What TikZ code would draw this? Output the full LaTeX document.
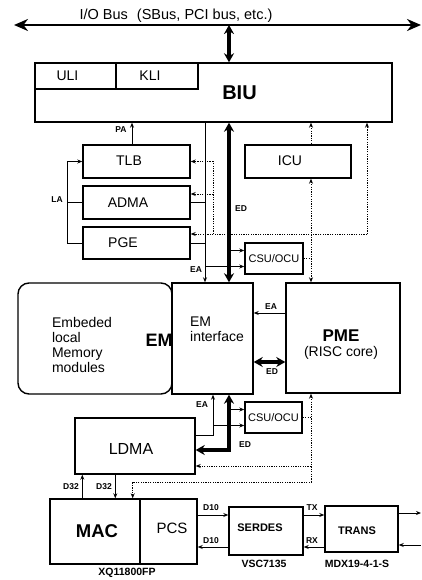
\documentclass[tikz,border=0pt]{standalone}
\usepackage{fontspec}
\setmainfont{Liberation Sans}
\usetikzlibrary{arrows.meta,positioning,calc}

\begin{document}
\begin{tikzpicture}[>={Stealth[length=5pt,width=4pt]},x=1pt,y=-1pt,
 font=\fontsize{14}{15}\selectfont,
 box/.style={draw,line width=1.4pt,inner sep=0pt},
 tx/.style={font=\fontsize{14}{15}\selectfont},
 sm/.style={font=\fontsize{11}{12}\selectfont},
 lab/.style={font=\bfseries\fontsize{8.5}{9}\selectfont,inner sep=1pt},
 part/.style={font=\bfseries\fontsize{10.5}{12}\selectfont,inner sep=1pt},
 wire/.style={line width=0.9pt},
 ctl/.style={line width=0.9pt,dash pattern=on 1.3pt off 1.1pt},
 fat/.style={line width=3.5pt,>={Stealth[length=9pt,width=10pt]}},
 bus/.style={line width=2.6pt,>={Stealth[length=14pt,width=12pt]}}]
\useasboundingbox (0,0) rectangle (422,580);
% I/O bus
\coordinate (busL) at (14,25);
\coordinate (busR) at (421,25);
\coordinate (busJ) at (229,25);
\node[font=\fontsize{14.5}{16}\selectfont] (iobus) at (176,15.5) {I/O Bus\hspace{9pt}(SBus, PCI bus, etc.)};
% blocks
\node[box,minimum width=357pt,minimum height=59pt,label={[font=\bfseries\fontsize{20}{22}\selectfont,xshift=26pt]center:BIU}] (biu) at (213.5,92.5) {};
\node[box,minimum width=81pt,minimum height=26pt,label={[tx,xshift=-8pt]center:ULI}] (uli) at (75.5,76) {};
\node[box,minimum width=82pt,minimum height=26pt,label={[tx,xshift=-7pt]center:KLI}] (kli) at (157,76) {};
\node[box,minimum width=107pt,minimum height=33pt,label={[tx,xshift=-7.5pt,yshift=1pt]center:TLB}] (tlb) at (136.5,161.5) {};
\node[box,minimum width=107pt,minimum height=33pt,label={[tx,xshift=-8.5pt]center:ADMA}] (adma) at (136.5,202.5) {};
\node[box,minimum width=107pt,minimum height=32pt,label={[tx,xshift=-13.5pt]center:PGE}] (pge) at (136.5,243) {};
\node[box,minimum width=106pt,minimum height=33pt,label={[tx,xshift=-8pt,yshift=1pt]center:ICU}] (icu) at (298,161.5) {};
\node[box,sm,minimum width=58pt,minimum height=31pt] (csuA) at (274,258.5) {CSU/OCU};
\node[box,rounded corners=11pt,minimum width=154pt,minimum height=111pt,
 label={[tx,align=left,xshift=-13pt,yshift=-6.5pt]center:Embeded\\local\\Memory\\modules},
 label={[font=\bfseries\fontsize{18}{20}\selectfont,xshift=64pt,yshift=-1.5pt]center:EM}] (emem) at (95,338.5) {};
\node[box,minimum width=81pt,minimum height=111pt,label={[tx,align=left,xshift=4.5pt,yshift=9.5pt]center:EM\\interface}] (emif) at (212.5,338.5) {};
\node[box,minimum width=114pt,minimum height=110pt,
 label={[align=center,xshift=-2pt,yshift=-7pt]center:{\bfseries\fontsize{17}{18}\selectfont PME}\\{\fontsize{14}{16}\selectfont (RISC core)}}] (pme) at (343,338) {};
\node[box,sm,minimum width=57pt,minimum height=31pt] (csuB) at (273.5,417.5) {CSU/OCU};
\node[box,minimum width=120pt,minimum height=56pt,label={[font=\fontsize{16}{18}\selectfont,xshift=-4pt,yshift=-3pt]center:LDMA}] (ldma) at (135,446) {};
\node[box,minimum width=90pt,minimum height=65pt,label={[font=\bfseries\fontsize{18.5}{20}\selectfont,xshift=2pt]center:MAC}] (mac) at (95,531.5) {};
\node[box,minimum width=57pt,minimum height=65pt,label={[font=\fontsize{15}{17}\selectfont,xshift=3.5pt,yshift=3.5pt]center:PCS}] (pcs) at (168.5,531.5) {};
\node[box,minimum width=74pt,minimum height=48pt,label={[font=\bfseries\fontsize{11}{12}\selectfont,xshift=-6pt,yshift=3pt]center:SERDES}] (serdes) at (266,531) {};
\node[box,minimum width=73pt,minimum height=46pt,label={[font=\bfseries\fontsize{11}{12}\selectfont,xshift=-4.5pt,yshift=-2pt]center:TRANS}] (trans) at (361.5,529) {};
\node[part] (xq) at (127,573) {XQ11800FP};
\node[part] (vsc) at (264,564) {VSC7135};
\node[part] (mdx) at (357,564) {MDX19-4-1-S};
% signal names
\node[lab] (nPA) at (121,130) {PA};
\node[lab] (nLA) at (57,200) {LA};
\node[lab] (nEA1) at (196,270) {EA};
\node[lab] (nED1) at (241,209) {ED};
\node[lab] (nEA2) at (271,307) {EA};
\node[lab] (nED2) at (272,372) {ED};
\node[lab] (nEA3) at (202,405) {EA};
\node[lab] (nED3) at (245,445) {ED};
\node[lab] (nD1) at (71,487) {D32};
\node[lab] (nD2) at (104,487) {D32};
\node[lab] (nD3) at (211,508) {D10};
\node[lab] (nD4) at (211,541) {D10};
\node[lab] (nTX) at (312,508) {TX};
\node[lab] (nRX) at (312,541) {RX};
% columns
\coordinate (la) at (67,0);
\coordinate (eaU) at (205,0);
\coordinate (ctlB) at (213,0);
\coordinate (eaL) at (213,0);
\coordinate (edX) at (229,0);
\coordinate (ctlC) at (311,0);
\coordinate (ctlA) at (367,0);
\coordinate (low) at (0,482);
\coordinate (edge) at (421,0);
% buses
\draw[bus,<->] (busL) -- (busR);
\draw[fat,<->] (busJ) -- (busJ |- biu.north);
\draw[fat,<->] (edX |- biu.south) -- (edX |- emif.north);
\draw[fat,<->,line join=miter] (edX |- emif.south) |- ($(ldma.east)+(0,4)$);
\draw[fat,<->] ($(pme.west)+(0,24)$) coordinate (edM) -- (edM -| emif.east);
% address and data wires
\draw[wire,->] ($(tlb.north)+(-4.5,0)$) coordinate (pa) -- (pa |- biu.south);
\draw[wire,->] (la |- tlb.west) -- (tlb.west);
\draw[wire] (la |- tlb.west) -- (la |- pge.west) -- (pge.west);
\draw[wire] (la |- adma.west) -- (adma.west);
\draw[wire,->] (eaU |- biu.south) -- (eaU |- emif.north);
\draw[wire] (adma.east) -- (eaU |- adma.east);
\draw[wire] (pge.east) -- (eaU |- pge.east);
\draw[wire,->] ($(eaU |- csuA.west)+(0,8)$) -- ($(csuA.west)+(0,8)$);
\draw[wire,->] ($(edX |- csuA.west)+(0,-8)$) -- ($(csuA.west)+(0,-8)$);
\draw[wire,->] ($(pme.west)+(0,-25)$) coordinate (eaM) -- (eaM -| emif.east);
\draw[wire,->] ($(ldma.east)+(0,-11)$) -| (eaL |- emif.south);
\draw[wire,->] ($(eaL |- csuB.west)+(0,8)$) -- ($(csuB.west)+(0,8)$);
\draw[wire,->] ($(edX |- csuB.west)+(0,-8)$) -- ($(csuB.west)+(0,-8)$);
\draw[wire,->] ($(mac.north west)+(33,0)$) coordinate (dUp) -- (dUp |- ldma.south);
\draw[wire,->] ($(ldma.south west)+(41,0)$) coordinate (dDn) -- (dDn |- mac.north);
\draw[wire,->] ($(pcs.east)+(0,-16.5)$) coordinate (d10a) -- (d10a -| serdes.west);
\draw[wire,->] ($(serdes.west)+(0,16)$) coordinate (d10b) -- (d10b -| pcs.east);
\draw[wire,->] (d10a -| serdes.east) -- (d10a -| trans.west);
\draw[wire,->] (d10b -| trans.west) -- (d10b -| serdes.east);
\draw[wire,->] ($(trans.east)+(0,-16)$) coordinate (tOut) -- (tOut -| edge);
\draw[wire,<-] ($(trans.east)+(0,16)$) coordinate (tIn) -- (tIn -| edge);
% control lines
\coordinate (pgeC) at ($(pge.east)+(0,-9)$);
\coordinate (admaC) at ($(adma.east)+(0,-8.5)$);
\draw[ctl,->] (ctlA |- pgeC) -- (ctlA |- biu.south);
\draw[ctl,->] (ctlA |- pgeC) -- (pgeC);
\draw[ctl] (ctlB |- pgeC) -- (ctlB |- tlb.east);
\draw[ctl,->] (ctlB |- tlb.east) -- (tlb.east);
\draw[ctl,->] (ctlB |- admaC) -- (admaC);
\draw[ctl,<-] (ctlC |- biu.south) -- (ctlC |- icu.north);
\draw[ctl,<->] (ctlC |- icu.south) -- (ctlC |- pme.north);
\draw[ctl] (csuA.east) -- (ctlC |- csuA.east);
\coordinate (macC) at ($(mac.north east)+(-8,0)$);
\draw[ctl,<->] (ctlC |- pme.south) -- (ctlC |- low) -| (macC);
\draw[ctl,->] (ctlC |- ldma.east) ++(0,20) coordinate (ldmaC) -- (ldmaC -| ldma.east);
\draw[ctl] (csuB.east) -- (ctlC |- csuB.east);
\end{tikzpicture}
\end{document}
